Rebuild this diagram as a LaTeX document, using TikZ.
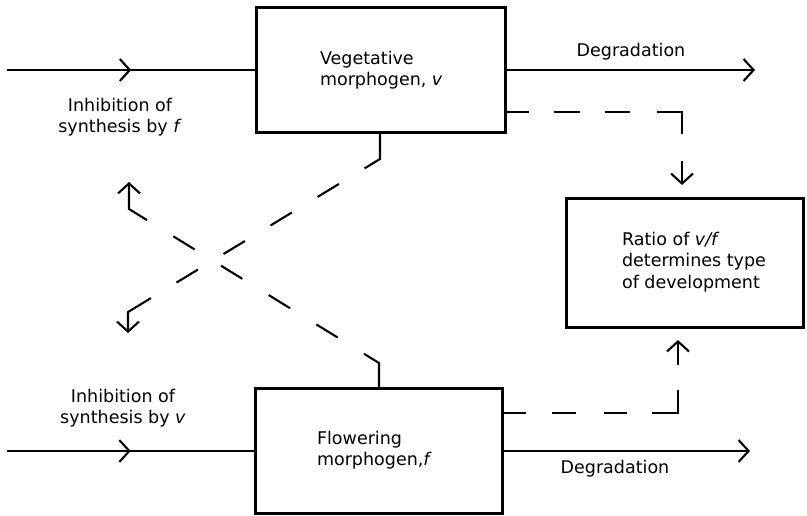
\documentclass[tikz,border=0pt]{standalone}
\usepackage{fontspec}
\setmainfont{DejaVu Sans}
\usetikzlibrary{arrows.meta,decorations.markings,calc}
\begin{document}
\begin{tikzpicture}[x=1pt,y=-1pt,
  line width=2.1pt,
  barb/.tip={Straight Barb[length=10pt,width=22pt]},
  box/.style={draw,line width=2.1pt,inner sep=0pt},
  txt/.style={font=\fontsize{17.5}{21.5}\selectfont,inner sep=0pt},
  midarrow/.style={postaction={decorate},
    decoration={markings,mark=at position 0.5 with {\arrow{barb}}}}]
\useasboundingbox (0,0) rectangle (807,515);

% the three boxes
\node[box,minimum width=249pt,minimum height=125pt] (veg) at (381,70) {};
\node[box,minimum width=247pt,minimum height=125pt] (flo) at (379,451) {};
\node[box,minimum width=237pt,minimum height=129pt] (ratio) at (685,263) {};

% box texts
\node[txt,anchor=west,align=left] (vegtxt) at (319,70) {Vegetative\\morphogen, \textit{v}};
\node[txt,anchor=west,align=left] (flotxt) at (316,450) {Flowering\\morphogen,\textit{f}};
\node[txt,anchor=west,align=left] (ratiotxt) at (621,262) {Ratio of \textit{v/f}\\determines type\\of development};

% synthesis inputs and degradation outputs
\coordinate (vin) at (7,70);
\coordinate (vout) at (755,70);
\coordinate (fin) at (7,451);
\coordinate (fout) at (750,451);
\draw[midarrow] (vin) -- (veg.west);
\draw[-barb] (veg.east) -- (vout);
\draw[midarrow] (fin) -- (flo.west);
\draw[-barb] (flo.east) -- (fout);

\node[txt,align=center] (vinh) at (120,117) {Inhibition of\\synthesis by \textit{f}};
\node[txt,align=center] (finh) at (123,408) {Inhibition of\\synthesis by \textit{v}};
\node[txt] (vdeg) at (631,52) {Degradation};
\node[txt] (fdeg) at (615,469) {Degradation};

% dashed links into the ratio box
\coordinate (vr1) at ($(veg.east)+(0,42)$);
\coordinate (vr2) at (682,112);
\draw[-barb,dash pattern=on 22pt off 25pt on 26pt off 25pt on 25pt off 27pt on 47pt off 27pt on 40pt,
  shorten >=12.5pt] (vr1) -- (vr2) -- (vr2 |- ratio.north);
\coordinate (fr1) at ($(flo.east)+(0,-38)$);
\coordinate (fr2) at (678,413);
\draw[-barb,dash pattern=on 22pt off 26pt on 24pt off 28pt on 23pt off 25pt on 49pt off 25pt on 40pt,
  shorten >=11.5pt] (fr1) -- (fr2) -- (fr2 |- ratio.south);

% crossing dashed links between the morphogens
\coordinate (vx1) at (380,159);
\coordinate (vx2) at (128,312);
\coordinate (vx3) at (128,333);
\draw[-barb,dash pattern=on 43.5pt off 30pt on 25pt off 30pt on 25pt off 30pt on 25pt off 30pt on 25pt off 30pt on 80pt]
  (vx1 |- veg.south) -- (vx1) -- (vx2) -- (vx3);
\coordinate (fx1) at (379,363);
\coordinate (fx2) at (129,209);
\coordinate (fx3) at (129,182);
\draw[-barb,dash pattern=on 42pt off 31pt on 25pt off 31pt on 25pt off 31pt on 25pt off 31pt on 25pt off 31pt on 80pt]
  (fx1 |- flo.north) -- (fx1) -- (fx2) -- (fx3);
\end{tikzpicture}
\end{document}
